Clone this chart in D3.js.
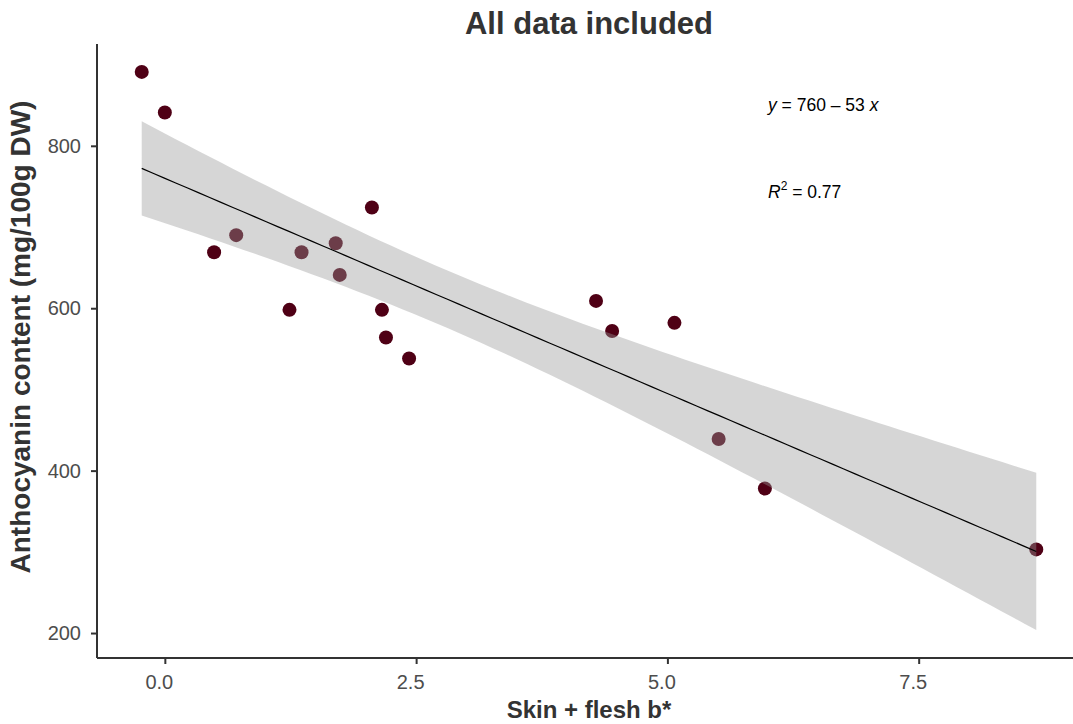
<!DOCTYPE html>
<html>
<head>
<meta charset="utf-8">
<script src="https://cdn.jsdelivr.net/npm/d3@7"></script>
<style>
  html, body { margin: 0; padding: 0; background: #ffffff; }
  svg { display: block; font-family: "Liberation Sans", Arial, sans-serif; }
</style>
</head>
<body>
<svg id="chart" width="1073" height="724"></svg>
<script>
// Skin + flesh b* against anthocyanin content, one point per sample
const skinFleshB = [-0.23, 0.00, 0.49, 0.71, 1.24, 1.36, 1.70, 1.74, 2.06, 2.16, 2.20, 2.43, 4.29, 4.45, 5.07, 5.51, 5.97, 8.67];
const anthocyanin = [891, 841, 669, 690, 598, 669, 680, 641, 724, 598, 564, 538, 609, 572, 582, 439, 378, 303];

// Fitted model as reported on the chart
const intercept = 760;
const slope = -53;
const rSquared = 0.77;

const xTicks = [0, 2.5, 5, 7.5];
const yTicks = [200, 400, 600, 800];

const title = "All data included";
const xTitle = "Skin + flesh b*";
const yTitle = "Anthocyanin content (mg/100g DW)";

const panel = { left: 97, right: 1081, top: 44, bottom: 658 };

const svg = d3.select("#chart");

// 95% confidence band around the fitted line
const n = skinFleshB.length;
const xbar = d3.mean(skinFleshB);
const sxx = d3.sum(skinFleshB, x => (x - xbar) ** 2);
const fit = x => intercept + slope * x;
const rss = d3.sum(skinFleshB, (x, i) => (anthocyanin[i] - fit(x)) ** 2);
const sigma = Math.sqrt(rss / (n - 2));
const tCrit = 2.119905; // t(0.975, df = 16)
const [xMin, xMax] = d3.extent(skinFleshB);
const band = d3.range(80).map(i => {
  const x = xMin + (xMax - xMin) * i / 79;
  const se = sigma * Math.sqrt(1 / n + (x - xbar) ** 2 / sxx);
  return { x, y: fit(x), lo: fit(x) - tCrit * se, hi: fit(x) + tCrit * se };
});

// Scale domains include points and band, padded by 5% on each side
const xPad = (xMax - xMin) * 0.05;
const yLo = Math.min(d3.min(anthocyanin), d3.min(band, d => d.lo));
const yHi = Math.max(d3.max(anthocyanin), d3.max(band, d => d.hi));
const yPad = (yHi - yLo) * 0.05;

const x = d3.scaleLinear().domain([xMin - xPad, xMax + xPad]).range([panel.left, panel.right]);
const y = d3.scaleLinear().domain([yLo - yPad, yHi + yPad]).range([panel.bottom, panel.top]);

// Points
svg.append("g")
  .selectAll("circle")
  .data(skinFleshB.map((v, i) => ({ x: v, y: anthocyanin[i] })))
  .join("circle")
  .attr("cx", d => x(d.x))
  .attr("cy", d => y(d.y))
  .attr("r", 7)
  .attr("fill", "#4f0015");

// Confidence ribbon drawn over the points
svg.append("path")
  .datum(band)
  .attr("d", d3.area().x(d => x(d.x)).y0(d => y(d.lo)).y1(d => y(d.hi)))
  .attr("fill", "#999999")
  .attr("fill-opacity", 0.4);

// Regression line
svg.append("path")
  .datum(band)
  .attr("d", d3.line().x(d => x(d.x)).y(d => y(d.y)))
  .attr("fill", "none")
  .attr("stroke", "#000000")
  .attr("stroke-width", 1.2);

// Axes
const xAxis = svg.append("g")
  .attr("transform", `translate(0,${panel.bottom})`)
  .call(d3.axisBottom(x).tickValues(xTicks).tickFormat(d3.format(".1f")).tickSize(6).tickPadding(11));
const yAxis = svg.append("g")
  .attr("transform", `translate(${panel.left},0)`)
  .call(d3.axisLeft(y).tickValues(yTicks).tickFormat(d3.format("d")).tickSize(6).tickPadding(10));

[xAxis, yAxis].forEach(g => {
  g.select(".domain").attr("stroke", "#333333").attr("stroke-width", 2);
  g.selectAll(".tick line").attr("stroke", "#333333").attr("stroke-width", 2);
  g.selectAll(".tick text")
    .attr("fill", "#4d4d4d")
    .style("font-size", "20px")
    .style("font-family", "'Liberation Sans', Arial, sans-serif");
});
xAxis.selectAll(".tick text").attr("dx", -6);
xAxis.select(".domain").attr("d", `M${panel.left},0H${panel.right}`);
yAxis.select(".domain").attr("d", `M0,${panel.top}V${panel.bottom}`);

// Titles
const cx = (panel.left + panel.right) / 2;
svg.append("text")
  .attr("x", cx).attr("y", 34)
  .attr("text-anchor", "middle")
  .attr("fill", "#333333")
  .style("font-size", "31px").style("font-weight", "bold")
  .text(title);

svg.append("text")
  .attr("x", cx).attr("y", 718)
  .attr("text-anchor", "middle")
  .attr("fill", "#333333")
  .style("font-size", "24px").style("font-weight", "bold")
  .text(xTitle);

svg.append("text")
  .attr("transform", `translate(30,337) rotate(-90)`)
  .attr("text-anchor", "middle")
  .attr("fill", "#333333")
  .style("font-size", "28px").style("font-weight", "bold")
  .text(yTitle);

// Equation and R² annotation
const eq = svg.append("text")
  .attr("x", 768).attr("y", 111)
  .attr("fill", "#000000")
  .style("font-size", "17.5px");
eq.append("tspan").style("font-style", "italic").text("y");
eq.append("tspan").text(` = ${intercept} \u2013 ${Math.abs(slope)} `);
eq.append("tspan").style("font-style", "italic").text("x");

const r2 = svg.append("text")
  .attr("x", 768).attr("y", 198)
  .attr("fill", "#000000")
  .style("font-size", "17.5px");
r2.append("tspan").style("font-style", "italic").text("R");
r2.append("tspan").attr("dy", -8).style("font-size", "12px").text("2");
r2.append("tspan").attr("dy", 8).text(` = ${rSquared.toFixed(2)}`);
</script>
</body>
</html>
